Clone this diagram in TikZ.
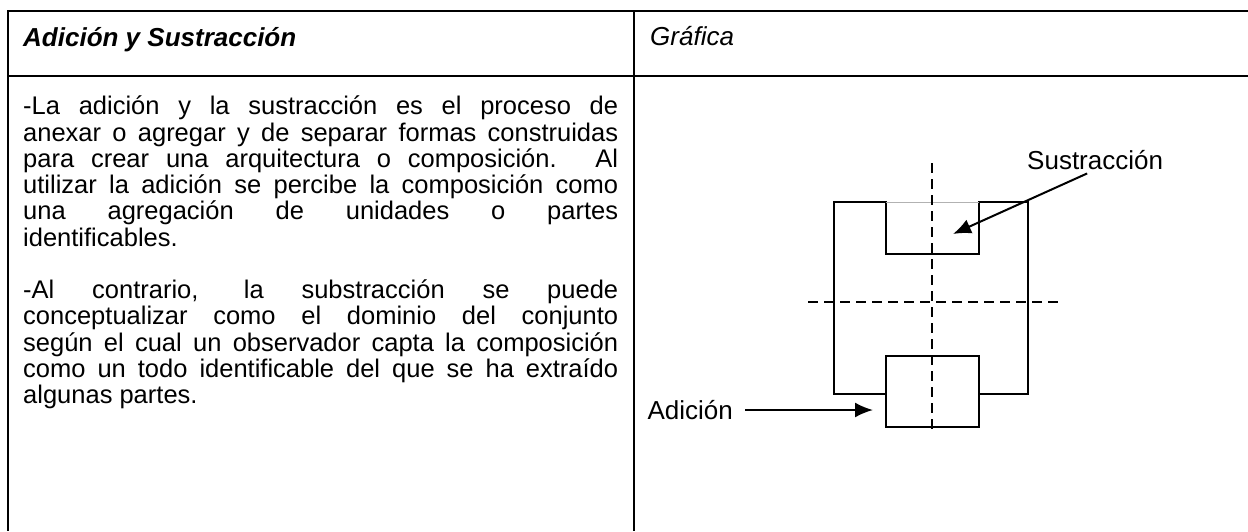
\documentclass[tikz,border=0pt]{standalone}
\usepackage{fontspec}
\setmainfont{Liberation Sans}
\usetikzlibrary{arrows.meta, positioning}

% body text: tight line pitch, one justified line of the left column
\newcommand{\bodyfont}{\fontsize{25.5}{26.25}\selectfont\lineskiplimit=-50pt\relax}
\newcommand{\fullline}[1]{\makebox[595pt][s]{#1}}

\begin{document}
\begin{tikzpicture}[
    x=1pt, y=-1pt,
    rule/.style={line width=2.2pt},
    wall/.style={line width=2pt},
    axis/.style={line width=2.2pt, dash pattern=on 10pt off 6pt},
    tag/.style={font=\fontsize{26}{30}\selectfont, inner sep=0pt},
    headtxt/.style={font=\fontsize{26}{30}\selectfont\itshape, anchor=base west, inner sep=0pt},
    body/.style={font=\bodyfont, align=left, anchor=north west, inner sep=0pt},
    pointer/.style={->, line width=2pt},
    >={Latex[length=18pt, width=15pt]},
]
    \useasboundingbox[fill=white] (0,0) rectangle (1248,531);

    % table rules
    \draw[rule] (1248,11) -- (8,11) -- (8,531);
    \draw[rule] (8,76) -- (1248,76);
    \draw[rule] (634,11) -- (634,531);

    % header row
    \node[headtxt, font=\fontsize{26}{30}\selectfont\bfseries\itshape] (titulo) at (23,46) {Adición y Sustracción};
    \node[headtxt] (grafica) at (650,45) {Gráfica};

    % left column text
    \node[body] (para1) at (23,96) {%
        \fullline{-La adición y la sustracción es el proceso de}\\
        \fullline{anexar o agregar y de separar formas construidas}\\
        \fullline{para crear una arquitectura o composición. Al}\\
        \fullline{utilizar la adición se percibe la composición como}\\
        \fullline{una agregación de unidades o partes}\\
        identificables.};
    \node[body] (para2) at (23,279.75) {%
        \fullline{-Al contrario, la substracción se puede}\\
        \fullline{conceptualizar como el dominio del conjunto}\\
        \fullline{según el cual un observador capta la composición}\\
        \fullline{como un todo identificable del que se ha extraído}\\
        algunas partes.};

    % figure
    \draw[wall] (886,394) -- (834,394) -- (834,202) -- (886,202) -- (886,254)
        -- (979,254) -- (979,202) -- (1028,202) -- (1028,394) -- (979,394);
    \draw[wall] (886,356) rectangle (979,427);
    \draw[line width=0.8pt, black!30] (886,202) -- (979,202);
    \draw[axis] (932,163) -- (932,434);
    \draw[axis] (808,302) -- (1060,302);

    % labels
    \node[tag, anchor=base west] (sustraccion) at (1027,169) {Sustracción};
    \coordinate (sustraccionTip) at (953,234);
    \draw[pointer] ([xshift=-8pt, yshift=-4pt]sustraccion.south) -- (sustraccionTip);

    \node[tag, anchor=east] (adicion) at (733,410) {Adición};
    \coordinate (adicionTip) at (873,410);
    \draw[pointer, shorten <=12pt] (adicion) -- (adicionTip);
\end{tikzpicture}
\end{document}
